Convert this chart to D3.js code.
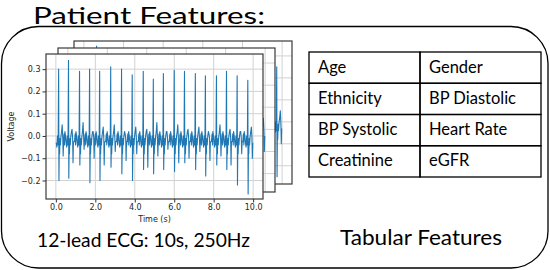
<!DOCTYPE html>
<html>
<head>
<meta charset="utf-8">
<script src="https://cdn.jsdelivr.net/npm/d3@7"></script>
<style>
  body { margin: 0; background: #fff; }
  svg { display: block; }
</style>
</head>
<body>
<svg id="fig"></svg>
<script>
// 1: DATA
// R-peak times (s), shared by every lead
const beatTimes = [0.14, 0.64, 1.20, 1.71, 2.22, 2.78, 3.33, 3.87, 4.43, 4.94,
                   5.45, 6.00, 6.52, 7.07, 7.58, 8.14, 8.65, 9.19, 9.73];

// front lead: R peak, S trough, T wave and late dip per beat (V)
const leadFrontR = [0.30, 0.34, 0.29, 0.30, 0.29, 0.31, 0.30, 0.275, 0.29, 0.255,
                    0.28, 0.295, 0.29, 0.28, 0.27, 0.27, 0.29, 0.27, 0.25];
const leadFrontS = [-0.20, -0.19, -0.13, -0.21, -0.20, -0.14, -0.17, -0.20, -0.15, -0.17,
                    -0.15, -0.16, -0.12, -0.15, -0.18, -0.13, -0.15, -0.22, -0.26];
const leadFrontT = [0.05, 0.03, 0.06, 0.02, 0.04, 0.05, 0.01, 0.04, 0.03, 0.06,
                    0.02, 0.05, 0.03, 0.04, 0.01, 0.05, 0.03, 0.02, 0.04];
const leadFrontD = [-0.09, -0.12, -0.06, -0.10, -0.13, -0.07, -0.11, -0.08, -0.14, -0.09,
                    -0.06, -0.12, -0.10, -0.07, -0.11, -0.09, -0.13, -0.08, -0.10];

// the two leads stacked behind it
const leadMidR = [0.28, 0.31, 0.27, 0.28, 0.27, 0.29, 0.28, 0.26, 0.27, 0.24,
                  0.26, 0.28, 0.27, 0.26, 0.25, 0.25, 0.27, 0.25, 0.24];
const leadMidS = [-0.18, -0.17, -0.14, -0.19, -0.18, -0.15, -0.16, -0.18, -0.15, -0.16,
                  -0.14, -0.15, -0.12, -0.14, -0.17, -0.13, -0.14, -0.20, -0.17];
const leadBackR = [0.30, 0.345, 0.30, 0.31, 0.30, 0.32, 0.31, 0.29, 0.30, 0.27,
                   0.29, 0.30, 0.30, 0.29, 0.28, 0.28, 0.30, 0.28, 0.25];
const leadBackS = [-0.21, -0.20, -0.15, -0.22, -0.21, -0.16, -0.18, -0.21, -0.16, -0.18,
                   -0.16, -0.17, -0.14, -0.16, -0.19, -0.15, -0.16, -0.23, -0.25];

// one beat: offset from the R peak (s) and voltage
// (null slots are filled from the per-beat arrays: R, S, T, late dip)
const shapeOffsets = [-0.25, -0.22, -0.20, -0.18, -0.15, -0.12, -0.09, -0.06, -0.04, -0.02,
                      0, 0.016, 0.035, 0.05, 0.07, 0.09, 0.12, 0.15, 0.18, 0.21, 0.23, 0.25];
const shapeValues  = [-0.02, 0.01, -0.04, 0.02, 0.00, -0.03, -0.05, 0.00, -0.04, 0.01,
                      null, null, -0.03, -0.08, -0.01, -0.04, 0.00, 0.02, null, -0.01, null, -0.03];
const R_IDX = 10, S_IDX = 11, T_IDX = 18, D_IDX = 20;

const xTicks = [0, 2, 4, 6, 8, 10];
const yTicks = [-0.2, -0.1, 0.0, 0.1, 0.2, 0.3];

const tableRows = [["Age", "Gender"], ["Ethnicity", "BP Diastolic"],
                   ["BP Systolic", "Heart Rate"], ["Creatinine", "eGFR"]];

// 2: SVG
const W = 550, H = 270;
const svg = d3.select("#fig").attr("width", W).attr("height", H);

// outer rounded box + title
svg.append("rect")
    .attr("x", 1.5).attr("y", 26.5)
    .attr("width", 546.5).attr("height", 241.5)
    .attr("rx", 37)
    .attr("fill", "none").attr("stroke", "#000").attr("stroke-width", 1.3);

svg.append("text")
    .attr("x", 33).attr("y", 24)
    .attr("textLength", 232).attr("lengthAdjust", "spacingAndGlyphs")
    .style("font-family", "Lato").style("font-size", "24px")
    .text("Patient Features:");

// 3: ECG PANELS
function makeTrace(rVals, sVals, tVals, dVals) {
    const pts = [];
    beatTimes.forEach((bt, i) => {
        shapeOffsets.forEach((dt, j) => {
            const t = bt + dt;
            if (t < 0 || t > 9.996) return;
            let v = shapeValues[j];
            if (j === R_IDX) v = rVals[i];
            else if (j === S_IDX) v = sVals[i];
            else if (j === T_IDX) v = tVals ? tVals[i] : 0.05;
            else if (j === D_IDX) v = dVals ? dVals[i] : -0.10;
            pts.push({ t, v });
        });
    });
    return pts.sort((a, b) => a.t - b.t);
}

function drawPanel(box, lead, id, front) {
    const x = d3.scaleLinear().domain([-0.5, 10.5]).range([box.x0, box.x1]);
    const y = d3.scaleLinear().domain([-0.283, 0.368]).range([box.y1, box.y0]);
    const g = svg.append("g");

    g.append("clipPath").attr("id", id)
        .append("rect")
        .attr("x", box.x0).attr("y", box.y0)
        .attr("width", box.x1 - box.x0).attr("height", box.y1 - box.y0);

    g.append("rect")
        .attr("x", box.x0).attr("y", box.y0)
        .attr("width", box.x1 - box.x0).attr("height", box.y1 - box.y0)
        .attr("fill", "#fff");

    const grid = g.append("g").attr("clip-path", `url(#${id})`)
        .attr("stroke", "#d2d2d2").attr("stroke-width", 1);
    grid.selectAll(".gx").data(xTicks).join("line")
        .attr("x1", d => x(d)).attr("x2", d => x(d))
        .attr("y1", box.y0).attr("y2", box.y1);
    grid.selectAll(".gy").data(yTicks).join("line")
        .attr("x1", box.x0).attr("x2", box.x1)
        .attr("y1", d => y(d)).attr("y2", d => y(d));

    const line = d3.line().x(d => x(d.t)).y(d => y(d.v));
    g.append("path")
        .attr("clip-path", `url(#${id})`)
        .attr("d", line(makeTrace(lead.r, lead.s, lead.t, lead.d)))
        .attr("fill", "none")
        .attr("stroke", "#1f77b4")
        .attr("stroke-width", 1.1)
        .attr("stroke-linejoin", "round");

    g.append("rect")
        .attr("x", box.x0).attr("y", box.y0)
        .attr("width", box.x1 - box.x0).attr("height", box.y1 - box.y0)
        .attr("fill", "none").attr("stroke", "#3a3a3a").attr("stroke-width", 1.2);

    if (!front) return;

    const ax = g.append("g")
        .attr("transform", `translate(0,${box.y1})`)
        .call(d3.axisBottom(x).tickValues(xTicks).tickSize(3.5).tickPadding(2)
            .tickFormat(d3.format(".1f")));
    const ay = g.append("g")
        .attr("transform", `translate(${box.x0},0)`)
        .call(d3.axisLeft(y).tickValues(yTicks).tickSize(3.5).tickPadding(2)
            .tickFormat(d3.format(".1f")));
    [ax, ay].forEach(a => {
        a.select(".domain").remove();
        a.selectAll("line").attr("stroke", "#333");
        a.selectAll("text")
            .attr("fill", "#262626")
            .style("font-family", "DejaVu Sans").style("font-size", "8px");
    });

    g.append("text")
        .attr("x", (box.x0 + box.x1) / 2).attr("y", 222)
        .attr("text-anchor", "middle")
        .attr("fill", "#262626")
        .style("font-family", "DejaVu Sans").style("font-size", "8px")
        .text("Time (s)");

    g.append("text")
        .attr("transform", `translate(14,${(box.y0 + box.y1) / 2}) rotate(-90)`)
        .attr("text-anchor", "middle")
        .attr("fill", "#262626")
        .style("font-family", "DejaVu Sans").style("font-size", "8px")
        .text("Voltage");
}

drawPanel({ x0: 74, y0: 41, x1: 292, y1: 184 }, { r: leadBackR, s: leadBackS }, "clipBack", false);
drawPanel({ x0: 58, y0: 48, x1: 275, y1: 192 }, { r: leadMidR, s: leadMidS }, "clipMid", false);
drawPanel({ x0: 46, y0: 54, x1: 263, y1: 199 },
          { r: leadFrontR, s: leadFrontS, t: leadFrontT, d: leadFrontD }, "clipFront", true);

svg.append("text")
    .attr("x", 37).attr("y", 247)
    .attr("textLength", 213).attr("lengthAdjust", "spacingAndGlyphs")
    .style("font-family", "Lato").style("font-size", "20px")
    .text("12-lead ECG: 10s, 250Hz");

// 4: TABLE
const colEdges = [309, 420, 541];
const rowY = d3.scaleBand().domain(d3.range(tableRows.length)).range([52, 177]);

const table = svg.append("g");
tableRows.forEach((row, i) => {
    row.forEach((cell, j) => {
        table.append("rect")
            .attr("x", colEdges[j]).attr("y", rowY(i))
            .attr("width", colEdges[j + 1] - colEdges[j]).attr("height", rowY.bandwidth())
            .attr("fill", "none").attr("stroke", "#000").attr("stroke-width", 1.3);
        table.append("text")
            .attr("x", colEdges[j] + 9).attr("y", rowY(i) + 20.5)
            .style("font-family", "Lato").style("font-size", "16.5px")
            .text(cell);
    });
});

svg.append("text")
    .attr("x", 340).attr("y", 245)
    .attr("textLength", 162).attr("lengthAdjust", "spacingAndGlyphs")
    .style("font-family", "Lato").style("font-size", "21px")
    .text("Tabular Features");
</script>
</body>
</html>
